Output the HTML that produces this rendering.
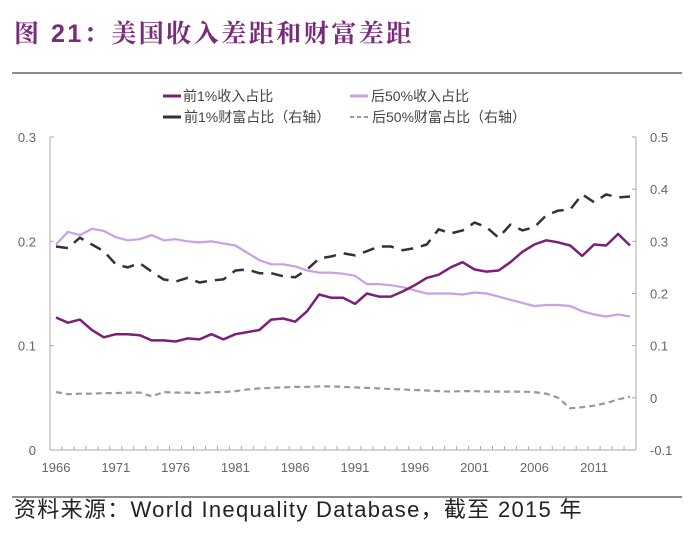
<!DOCTYPE html>
<html><head><meta charset="utf-8"><style>
body{margin:0;background:#fff;width:700px;height:539px;overflow:hidden;font-family:"Liberation Sans","Noto Sans CJK SC",sans-serif}
</style></head><body>
<svg width="700" height="539" xmlns="http://www.w3.org/2000/svg">
<text x="14" y="42" font-size="25" font-weight="bold" fill="#7a2a7a" letter-spacing="2.5" font-family="Liberation Sans,Noto Serif CJK SC,serif">图 21：美国收入差距和财富差距</text>
<line x1="12" y1="73" x2="682" y2="73" stroke="#666" stroke-width="1.5"/>
<g id="legend" font-size="14" fill="#444">
 <g><line x1="163" y1="96" x2="181" y2="96" stroke="#7b1f7a" stroke-width="3"/><text x="183" y="101">前1%收入占比</text></g>
 <g><line x1="350" y1="96" x2="368" y2="96" stroke="#c9a0e6" stroke-width="3"/><text x="371" y="101">后50%收入占比</text></g>
 <g><line x1="163" y1="117" x2="181" y2="117" stroke="#333" stroke-width="3"/><text x="184" y="122">前1%财富占比（右轴）</text></g>
 <g><line x1="350" y1="117" x2="370" y2="117" stroke="#999" stroke-width="2" stroke-dasharray="4,3"/><text x="372" y="122">后50%财富占比（右轴）</text></g>
</g>
<g id="axes" font-size="13" fill="#666"></g>
<g id="series"></g>
<line x1="12" y1="497" x2="682" y2="497" stroke="#666" stroke-width="1.5"/>
<text x="14" y="517" font-size="22" fill="#222" letter-spacing="1.3">资料来源：World Inequality Database，截至 2015 年</text>
</svg>
<script>
const years=[];for(let y=1966;y<=2014;y++)years.push(y);
const top1Income=[0.127,0.122,0.125,0.115,0.108,0.111,0.111,0.110,0.105,0.105,0.104,0.107,0.106,0.111,0.106,0.111,0.113,0.115,0.125,0.126,0.123,0.133,0.149,0.146,0.146,0.140,0.150,0.147,0.147,0.152,0.158,0.165,0.168,0.175,0.180,0.173,0.171,0.172,0.180,0.190,0.197,0.201,0.199,0.196,0.186,0.197,0.196,0.207,0.196];
const bottom50Income=[0.197,0.209,0.206,0.212,0.210,0.204,0.201,0.202,0.206,0.201,0.202,0.200,0.199,0.200,0.198,0.196,0.189,0.182,0.178,0.178,0.176,0.172,0.170,0.170,0.169,0.167,0.159,0.159,0.158,0.156,0.153,0.150,0.150,0.150,0.149,0.151,0.150,0.147,0.144,0.141,0.138,0.139,0.139,0.138,0.133,0.130,0.128,0.130,0.128];
const top1Wealth=[0.290,0.287,0.307,0.294,0.281,0.256,0.250,0.258,0.242,0.227,0.223,0.230,0.221,0.225,0.227,0.244,0.246,0.239,0.239,0.233,0.231,0.246,0.267,0.271,0.277,0.273,0.281,0.290,0.290,0.283,0.287,0.294,0.323,0.315,0.321,0.336,0.327,0.307,0.332,0.321,0.327,0.350,0.359,0.361,0.390,0.375,0.390,0.384,0.386];
const bottom50Wealth=[0.011,0.007,0.008,0.008,0.009,0.009,0.010,0.010,0.003,0.011,0.010,0.010,0.009,0.011,0.011,0.013,0.016,0.018,0.019,0.020,0.021,0.021,0.022,0.022,0.021,0.020,0.019,0.018,0.017,0.016,0.015,0.014,0.013,0.012,0.013,0.013,0.012,0.012,0.012,0.012,0.011,0.008,0.000,-0.020,-0.018,-0.015,-0.010,-0.003,0.002];
const leftTicks=[0,0.1,0.2,0.3];
const rightTicks=[-0.1,0,0.1,0.2,0.3,0.4,0.5];
const xTickYears=[1966,1971,1976,1981,1986,1991,1996,2001,2006,2011];
const L=50,R=636,T=137,B=450,step=(R-L)/years.length;
const xs=i=>L+step*(i+0.5);
const yl=v=>B-(v/0.3)*(B-T);
const yr=v=>B-((v+0.1)/0.6)*(B-T);
const NS='http://www.w3.org/2000/svg';
const ax=document.getElementById('axes'),se=document.getElementById('series');
function mk(tag,attrs,parent){const e=document.createElementNS(NS,tag);for(const k in attrs)e.setAttribute(k,attrs[k]);parent.appendChild(e);return e;}
let e=mk('line',{x1:L,y1:T,x2:L,y2:B,stroke:'#aaa'},ax);


e=mk('line',{x1:R,y1:T,x2:R,y2:B,stroke:'#aaa'},ax);


e=mk('line',{x1:L,y1:B,x2:R,y2:B,stroke:'#aaa'},ax);


for(let i=0;i<=years.length;i++){mk('line',{x1:L+step*i,y1:B,x2:L+step*i,y2:B-4,stroke:'#aaa'},ax);}
leftTicks.forEach(v=>{mk('line',{x1:L,y1:yl(v),x2:L+4,y2:yl(v),stroke:'#aaa'},ax);
 const t=mk('text',{x:36,y:yl(v)+5,'text-anchor':'end'},ax);t.textContent=String(v);
 
 });
rightTicks.forEach(v=>{mk('line',{x1:R,y1:yr(v),x2:R-4,y2:yr(v),stroke:'#aaa'},ax);
 const t=mk('text',{x:650,y:yr(v)+5},ax);t.textContent=String(v);
 
 });
xTickYears.forEach(yv=>{const i=years.indexOf(yv);const t=mk('text',{x:xs(i),y:472,'text-anchor':'middle','font-size':'13'},ax);t.textContent=yv;
 
 });
function line(data,yf,attrs,name){const p=mk('polyline',Object.assign({points:data.map((v,i)=>xs(i).toFixed(1)+','+yf(v).toFixed(1)).join(' '),fill:'none','stroke-linejoin':'round'},attrs),se);
 
 }
line(bottom50Wealth,yr,{stroke:'#999','stroke-width':2.2,'stroke-dasharray':'6,4'},'line-bottom50-wealth');
line(top1Wealth,yr,{stroke:'#333','stroke-width':2.5,'stroke-dasharray':'12,8'},'line-top1-wealth');
line(bottom50Income,yl,{stroke:'#c9a0e6','stroke-width':2.2},'line-bottom50-income');
line(top1Income,yl,{stroke:'#7b1f7a','stroke-width':2.5},'line-top1-income');
</script>
</body></html>
